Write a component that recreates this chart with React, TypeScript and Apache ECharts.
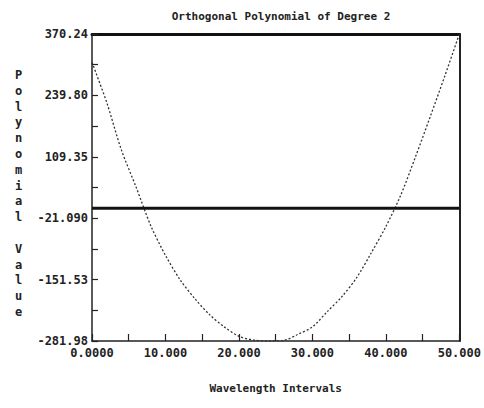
import React, { useEffect, useRef } from "react";
import * as echarts from "echarts";

const waveIntervals = [0, 2, 4, 6, 8, 10, 12, 14, 16, 18, 20, 22, 24, 26, 28, 30, 32, 34, 36, 38, 40, 42, 44, 46, 48, 50];
const polyValues = [310, 225, 124, 45, -37, -100, -152, -192, -226, -252, -272, -280, -281.98, -281, -268, -252, -220, -188, -148, -95, -39, 27, 108, 193, 280, 370.24];
const baselineValue = 0;

const yTickValues = [-281.98, -151.536, -21.092, 109.352, 239.796, 370.24];
const yTickLabels = ["-281.98", "-151.53", "-21.090", "109.35", "239.80", "370.24"];
const xTickValues = [0, 10, 20, 30, 40, 50];
const xTickLabels = ["0.0000", "10.000", "20.000", "30.000", "40.000", "50.000"];

const titleText = "Orthogonal Polynomial of Degree 2";
const xTitle = "Wavelength Intervals";
const yTitle = "Polynomial Value";

const FONT = "'DejaVu Sans Mono', 'Liberation Mono', monospace";

export default function App() {
  const ref = useRef<HTMLDivElement>(null);
  useEffect(() => {
    if (!ref.current) return;
    const chart = echarts.init(ref.current, undefined, { renderer: "svg" });
    const yMin = yTickValues[0];
    const yMax = yTickValues[yTickValues.length - 1];
    const yMinor: number[] = [];
    for (let i = 0; i < yTickValues.length - 1; i++) {
      yMinor.push(yTickValues[i]);
      yMinor.push((yTickValues[i] + yTickValues[i + 1]) / 2);
    }
    yMinor.push(yMax);
    const fmtY = (v: number) => {
      let best = 0;
      yTickValues.forEach((t, i) => {
        if (Math.abs(t - v) < Math.abs(yTickValues[best] - v)) best = i;
      });
      return yTickLabels[best];
    };
    const fmtX = (v: number) => {
      const i = xTickValues.indexOf(v);
      return i >= 0 ? xTickLabels[i] : "";
    };
    chart.setOption({
      animation: false,
      backgroundColor: "#ffffff",
      title: {
        text: titleText,
        left: 276,
        top: 6,
        textAlign: "center",
        textStyle: { fontFamily: FONT, fontSize: 11, fontWeight: "bold", color: "#222" },
      },
      grid: { left: 92, right: 21, top: 34, bottom: 67 },
      graphic: [
        {
          type: "text",
          left: 15,
          top: 67,
          style: {
            text: yTitle.split("").join("\n"),
            font: "bold 12px " + FONT,
            lineHeight: 15.8,
            fill: "#222",
            textAlign: "center",
          },
        },
      ],
      xAxis: [
        {
          type: "value",
          min: 0,
          max: 50,
          interval: 10,
          position: "bottom",
          name: xTitle,
          nameLocation: "middle",
          nameGap: 42,
          nameTextStyle: { fontFamily: FONT, fontSize: 11, fontWeight: "bold", color: "#222" },
          axisLine: { show: true, onZero: false, lineStyle: { color: "#222", width: 1.5 } },
          axisTick: { show: true, inside: true, length: 7, lineStyle: { color: "#222", width: 1.2 } },
          minorTick: { show: true, splitNumber: 2, length: 7, lineStyle: { color: "#222", width: 1.2 } },
          axisLabel: {
            formatter: fmtX,
            fontFamily: FONT,
            fontSize: 12,
            fontWeight: "bold",
            color: "#222",
            margin: 6,
          },
          splitLine: { show: false },
        },
        {
          type: "value",
          min: 0,
          max: 50,
          position: "top",
          axisLine: { show: true, onZero: false, lineStyle: { color: "#111", width: 3 } },
          axisTick: { show: false },
          axisLabel: { show: false },
          splitLine: { show: false },
        },
      ],
      yAxis: [
        {
          type: "value",
          min: yMin,
          max: yMax,
          position: "left",
          axisLine: { show: true, onZero: false, lineStyle: { color: "#222", width: 1.5 } },
          axisTick: {
            show: true,
            inside: true,
            length: 6,
            customValues: yMinor,
            lineStyle: { color: "#222", width: 1.2 },
          },
          axisLabel: {
            customValues: yTickValues,
            formatter: fmtY,
            fontFamily: FONT,
            fontSize: 12,
            fontWeight: "bold",
            color: "#222",
            margin: 4,
          },
          splitLine: { show: false },
        },
        {
          type: "value",
          min: yMin,
          max: yMax,
          position: "right",
          axisLine: { show: true, onZero: false, lineStyle: { color: "#222", width: 2 } },
          axisTick: { show: false },
          axisLabel: { show: false },
          splitLine: { show: false },
        },
      ],
      series: [
        {
          type: "line",
          xAxisIndex: 0,
          yAxisIndex: 0,
          data: waveIntervals.map((x, i) => [x, polyValues[i]]),
          smooth: 0.3,
          symbol: "none",
          lineStyle: { color: "#333", width: 1.3, type: [2, 2] },
        },
        {
          type: "line",
          xAxisIndex: 0,
          yAxisIndex: 0,
          data: [
            [waveIntervals[0], baselineValue],
            [waveIntervals[waveIntervals.length - 1], baselineValue],
          ],
          symbol: "none",
          lineStyle: { color: "#111", width: 3 },
        },
      ],
    });
    return () => chart.dispose();
  }, []);
  return <div ref={ref} style={{ width: 484, height: 408, position: "absolute", left: 0, top: 0 }} />;
}
